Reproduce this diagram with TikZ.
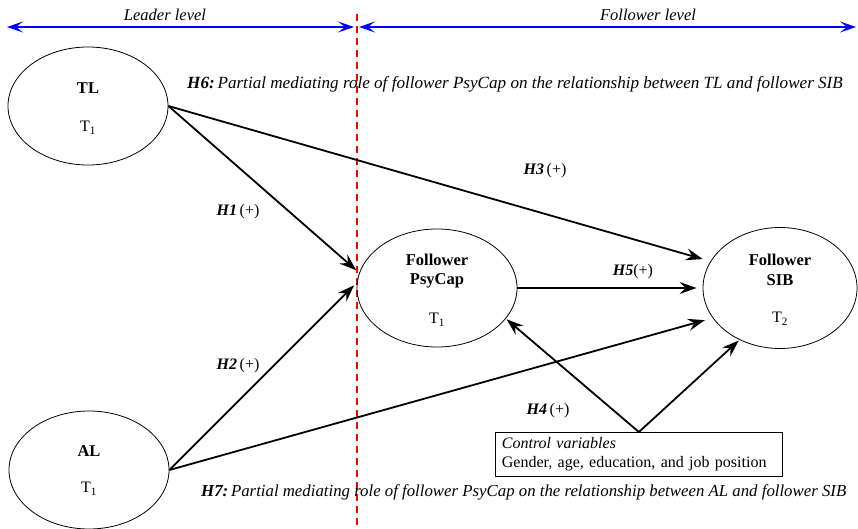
\documentclass[tikz,border=0pt]{standalone}
\usepackage{fontspec}
\setmainfont{Liberation Serif}
\usetikzlibrary{shapes.geometric,arrows.meta}
\tikzset{
  construct/.style={ellipse, draw, line width=0.8pt, minimum width=160pt, minimum height=118pt, inner sep=0pt},
  cname/.style={font=\fontsize{16.5}{19.5}\selectfont\bfseries, align=center, inner sep=0pt},
  lbl/.style={inner sep=0pt},
  hypo/.style={inner sep=0pt, anchor=west, font=\fontsize{17.1}{20}\selectfont},
  path/.style={line width=1.8pt, -{Stealth[length=17pt,width=12pt,inset=6pt]}},
  level/.style={draw=blue, line width=2pt, {Stealth[length=16pt,width=11pt,inset=7pt]}-{Stealth[length=16pt,width=11pt,inset=7pt]}},
  divider/.style={draw=red, line width=1.4pt, dash pattern=on 7pt off 5pt}
}
\begin{document}
\begin{tikzpicture}[x=1pt,y=-1pt,font=\fontsize{16}{19}\selectfont]
\useasboundingbox (0,0) rectangle (858,529);

% level bands and divider
\coordinate (lvL) at (7,27);
\coordinate (lvM1) at (354,27);
\coordinate (lvM2) at (359,27);
\coordinate (lvR) at (856,27);
\draw[level] (lvL) -- (lvM1);
\draw[level] (lvM2) -- (lvR);
\node[lbl, font=\fontsize{16.5}{19}\selectfont\itshape] (leader) at (165,15) {Leader level};
\node[lbl, font=\fontsize{16.5}{19}\selectfont\itshape] (follower) at (648,15) {Follower level};
\coordinate (divT) at (357,14);
\coordinate (divB) at (357,529);
\draw[divider] (divT) -- (divB);

% constructs
\node[construct] (tl) at (88,106) {};
\node[cname] (tlname) at (88,88) {TL};
\node[lbl] (tltime) at (88,128) {T\textsubscript{1}};

\node[construct] (al) at (89,470) {};
\node[cname] (alname) at (89,451) {AL};
\node[lbl] (altime) at (89,489) {T\textsubscript{1}};

\node[construct] (psy) at (437,288) {};
\node[cname] (psyname) at (437,271) {Follower\\PsyCap};
\node[lbl] (psytime) at (437,320) {T\textsubscript{1}};

\node[construct, minimum width=154pt, minimum height=121pt] (sib) at (780,288) {};
\node[cname] (sibname) at (780,270) {Follower\\SIB};
\node[lbl] (sibtime) at (780,319) {T\textsubscript{2}};

% control variables
\node[draw, line width=0.8pt, anchor=north west, align=left, text width=274pt,
      inner xsep=6.5pt, inner ysep=2.5pt, minimum height=44pt] (cv) at (495,432)
  {\textit{Control variables}\\Gender, age, education, and job position};

% hypothesised paths
\draw[path, shorten >=4pt] (tl.east) -- (psy.169);
\draw[path, shorten >=8pt] (tl.east) -- (sib.159);
\draw[path, shorten >=4pt] (al.east) -- (psy.176);
\draw[path, shorten >=8pt] (al.east) -- (sib.204);
\draw[path, shorten >=6pt] (psy.east) -- (psy.east -| sib.west);
\draw[path, shorten >=1pt] (cv.north) -- (psy.336);
\draw[path, shorten >=1pt] (cv.north) -- (sib.232);

% path labels
\node[lbl] (h1) at (238,212) {\textbf{\textit{H1}}\,(+)};
\node[lbl] (h2) at (238,366) {\textbf{\textit{H2}}\,(+)};
\node[lbl] (h3) at (545,171) {\textbf{\textit{H3}}\,(+)};
\node[lbl] (h4) at (548,411) {\textbf{\textit{H4}}\,(+)};
\node[lbl] (h5) at (633,272) {\textbf{\textit{H5}}(+)};
\node[hypo] (h6) at (187,84)
  {\textbf{\textit{H6:}}\,\textit{Partial mediating role of follower PsyCap on the relationship between TL and follower SIB}};
\node[hypo, font=\fontsize{16.8}{20}\selectfont] (h7) at (201,492)
  {\textbf{\textit{H7:}}\,\textit{Partial mediating role of follower PsyCap on the relationship between AL and follower SIB}};
\end{tikzpicture}
\end{document}
